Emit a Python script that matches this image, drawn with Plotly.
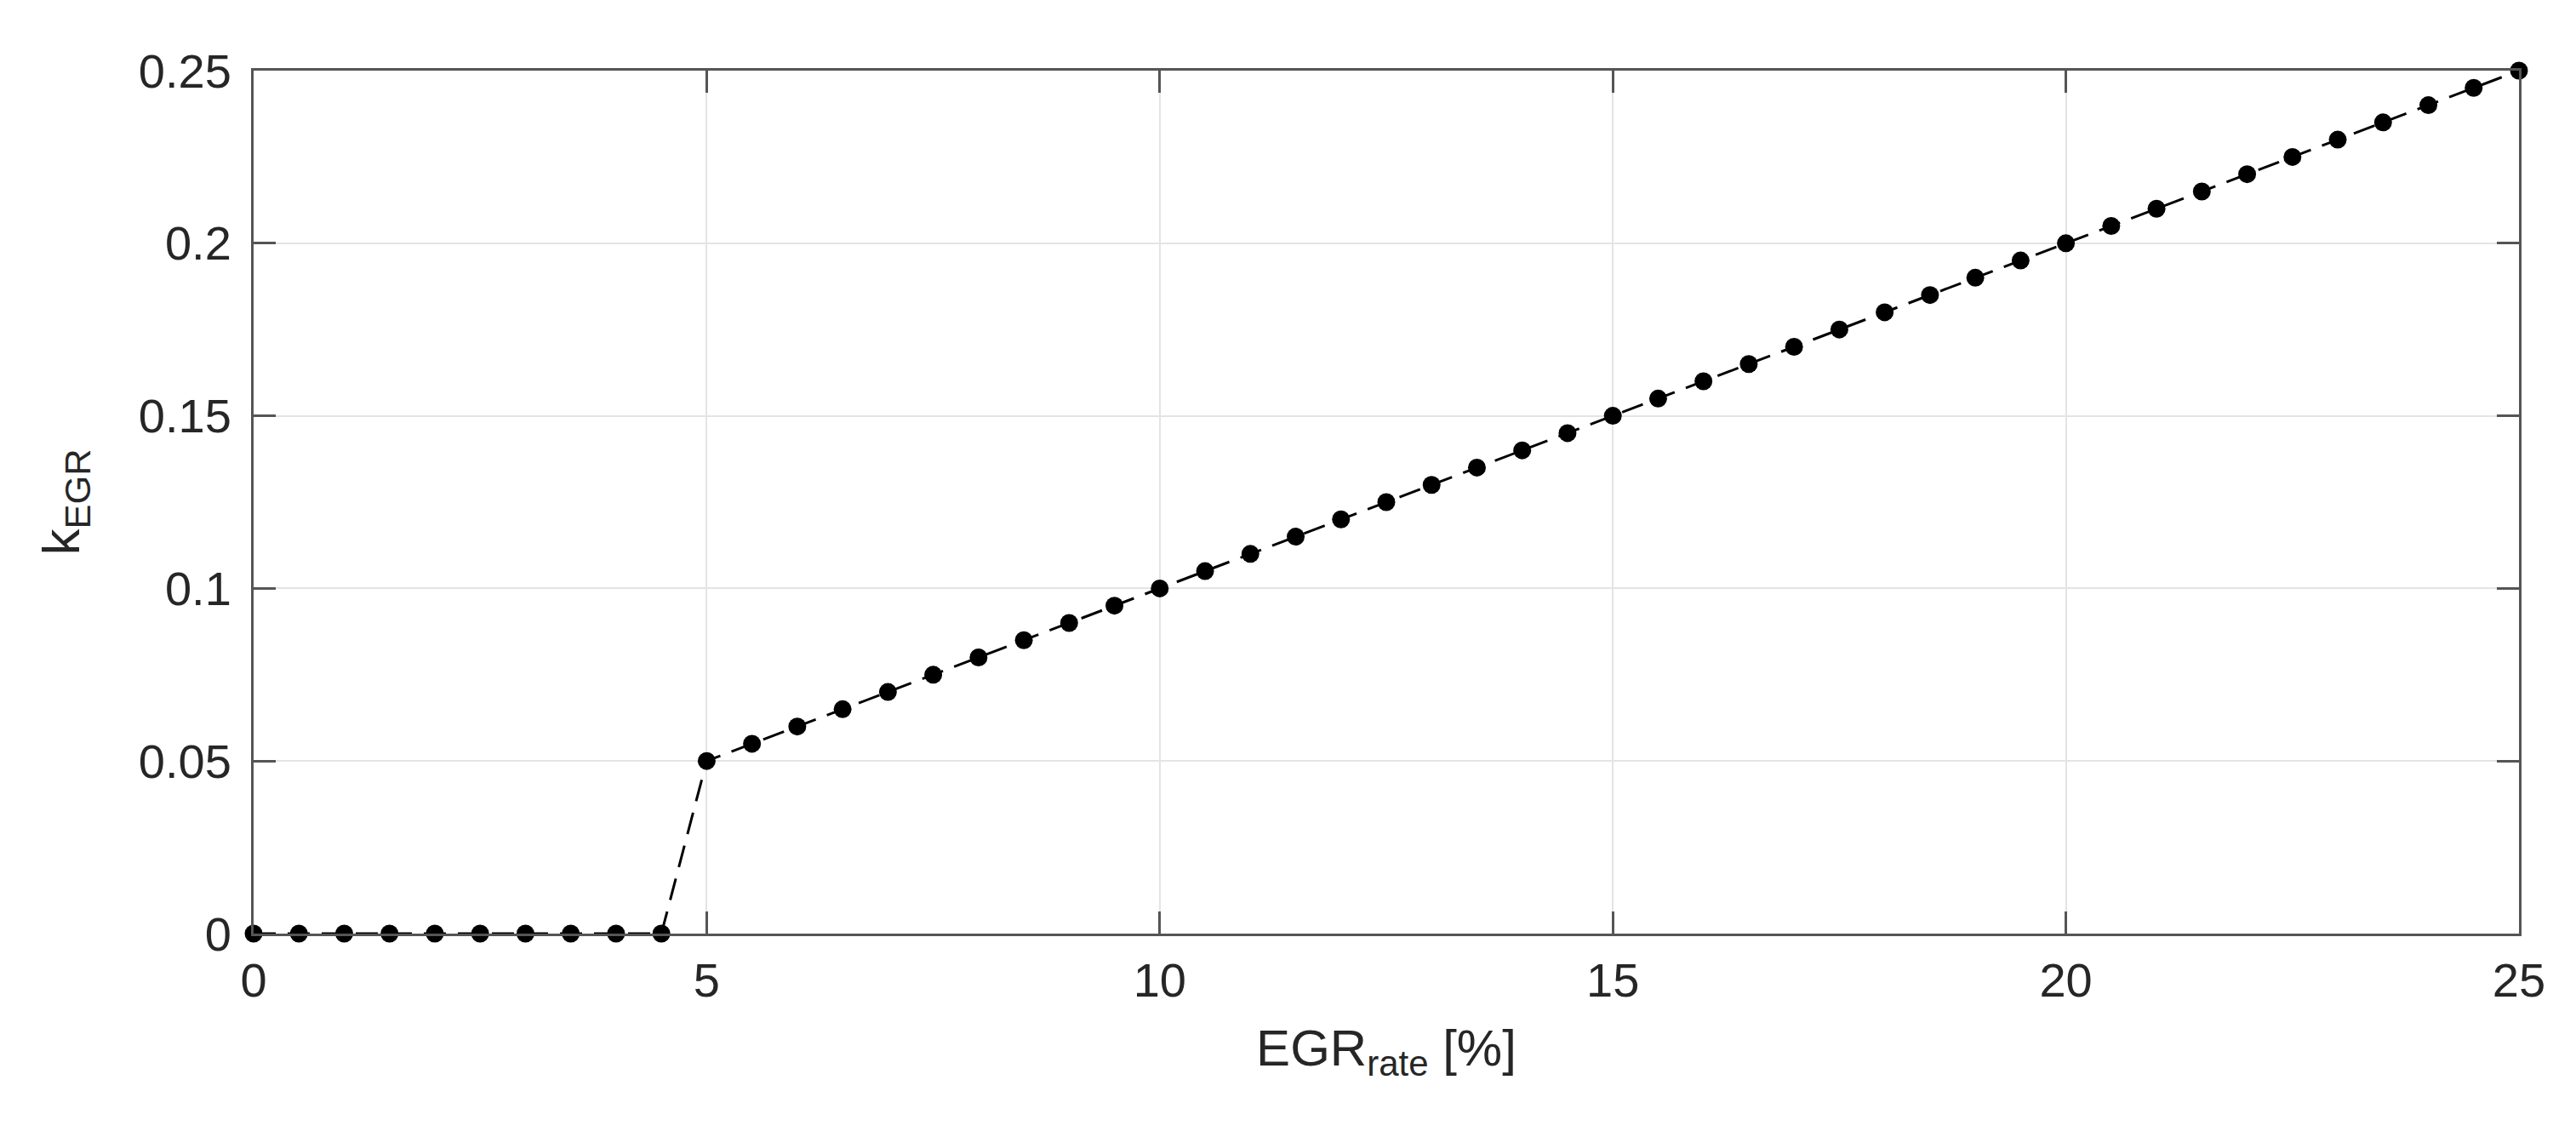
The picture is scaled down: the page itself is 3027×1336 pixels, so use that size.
import plotly.graph_objects as go

# EGR rate [%] and the k_EGR factor
egr_rate = [0, 0.5, 1, 1.5, 2, 2.5, 3, 3.5, 4, 4.5,
            5, 5.5, 6, 6.5, 7, 7.5, 8, 8.5, 9, 9.5,
            10, 10.5, 11, 11.5, 12, 12.5, 13, 13.5, 14, 14.5,
            15, 15.5, 16, 16.5, 17, 17.5, 18, 18.5, 19, 19.5,
            20, 20.5, 21, 21.5, 22, 22.5, 23, 23.5, 24, 24.5, 25]
k_egr = [0, 0, 0, 0, 0, 0, 0, 0, 0, 0,
         0.05, 0.055, 0.06, 0.065, 0.07, 0.075, 0.08, 0.085, 0.09, 0.095,
         0.10, 0.105, 0.11, 0.115, 0.12, 0.125, 0.13, 0.135, 0.14, 0.145,
         0.15, 0.155, 0.16, 0.165, 0.17, 0.175, 0.18, 0.185, 0.19, 0.195,
         0.20, 0.205, 0.21, 0.215, 0.22, 0.225, 0.23, 0.235, 0.24, 0.245, 0.25]

x_ticks = [0, 5, 10, 15, 20, 25]
y_ticks = [0, 0.05, 0.1, 0.15, 0.2, 0.25]
y_ticktext = ['0', '0.05', '0.1', '0.15', '0.2', '0.25']

font_name = 'Liberation Sans, Arial, sans-serif'
text_col = '#262626'
axis_col = '#555555'

fig = go.Figure()
fig.add_trace(go.Scatter(
    x=egr_rate, y=k_egr, mode='lines+markers',
    line=dict(color='black', width=3, dash='26px,14px'),
    marker=dict(color='black', size=21),
    cliponaxis=False, showlegend=False))

axis_common = dict(
    showline=True, linecolor=axis_col, linewidth=3, mirror='ticks',
    ticks='inside', ticklen=26, tickwidth=3, tickcolor=axis_col,
    showgrid=True, gridcolor='#e4e4e4', gridwidth=2,
    zeroline=False,
    tickfont=dict(family=font_name, size=56, color=text_col),
)

fig.update_xaxes(axis_common, range=[0, 25], tickvals=x_ticks, ticklabelstandoff=4,
                 title=dict(text='EGR<sub>rate</sub> [%]',
                            font=dict(family=font_name, size=60, color=text_col),
                            standoff=28))
fig.update_yaxes(axis_common, range=[0, 0.25], tickvals=y_ticks, ticktext=y_ticktext,
                 ticklabelstandoff=12,
                 title=dict(text='k<sub>EGR</sub>',
                            font=dict(family=font_name, size=62, color=text_col),
                            standoff=50))

fig.update_layout(
    width=3027, height=1336,
    margin=dict(l=290, r=75, t=75, b=247),
    plot_bgcolor='white', paper_bgcolor='white',
)

fig.write_html("out.html")
